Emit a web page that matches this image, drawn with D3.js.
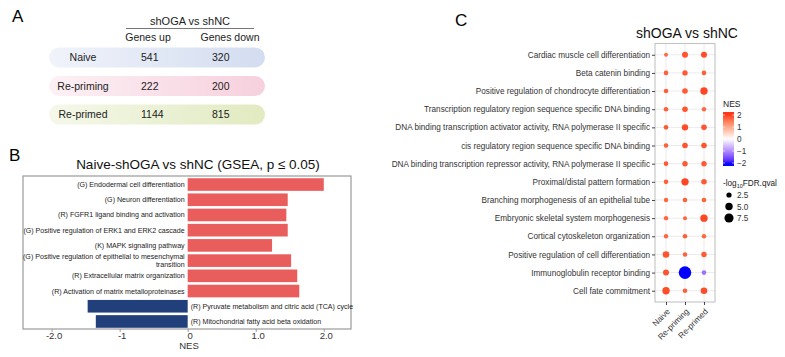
<!DOCTYPE html>
<html><head><meta charset="utf-8">
<script src="https://cdn.jsdelivr.net/npm/d3@7"></script>
<style>body{margin:0;background:#fff}svg{display:block;font-family:"Liberation Sans",Arial,sans-serif}</style>
</head><body>
<svg id="chart" width="785" height="357"></svg>
<script>
// ---------- Panel A data ----------
const tableRows = ["Naive", "Re-priming", "Re-primed"];
const genesUp = [541, 222, 1144];
const genesDown = [320, 200, 815];

// ---------- Panel B data ----------
const gseaTerms = [
  "(G) Endodermal cell differentiation",
  "(G) Neuron differentiation",
  "(R) FGFR1 ligand binding and activation",
  "(G) Positive regulation of ERK1 and ERK2 cascade",
  "(K) MAPK signaling pathway",
  "(G) Positive regulation of epithelial to mesenchymal|transition",
  "(R) Extracellular matrix organization",
  "(R) Activation of matrix metalloproteinases",
  "(R) Pyruvate metabolism and citric acid (TCA) cycle",
  "(R) Mitochondrial fatty acid beta oxidation"
];
const gseaNES = [2.0, 1.47, 1.45, 1.47, 1.24, 1.52, 1.61, 1.64, -1.47, -1.35];
const bTicks = [-2, -1, 0, 1, 2];
const bTickLabels = ["-2.0", "-1", "0", "1.0", "2.0"];

// ---------- Panel C data ----------
const cTerms = [
  "Cardiac muscle cell differentiation",
  "Beta catenin binding",
  "Positive regulation of chondrocyte differentiation",
  "Transcription regulatory region sequence specific DNA binding",
  "DNA binding transcription activator activity, RNA polymerase II specific",
  "cis regulatory region sequence specific DNA binding",
  "DNA binding transcription repressor activity, RNA polymerase II specific",
  "Proximal/distal pattern formation",
  "Branching morphogenesis of an epithelial tube",
  "Embryonic skeletal system morphogenesis",
  "Cortical cytoskeleton organization",
  "Positive regulation of cell differentiation",
  "Immunoglobulin receptor binding",
  "Cell fate commitment"
];
const cGroups = ["Naive", "Re-priming", "Re-primed"];
const nesNaive     = [1.6, 1.7, 1.7, 1.7, 1.75, 1.7, 1.75, 1.7, 1.65, 1.65, 1.65, 1.8, 1.8, 1.85];
const nesRepriming = [1.8, 1.75, 1.75, 1.8, 1.85, 1.8, 1.75, 1.9, 1.7, 1.65, 1.7, 1.7, -2.0, 1.7];
const nesReprimed  = [1.85, 1.7, 1.9, 1.65, 1.8, 1.8, 1.75, 1.75, 1.7, 1.9, 1.65, 1.75, -1.2, 1.85];
const qNaive     = [1.23, 1.63, 1.63, 1.63, 1.63, 1.63, 1.63, 1.63, 1.5, 1.5, 1.5, 3.36, 2.78, 4.2];
const qRepriming = [2.78, 2.25, 2.4, 2.4, 3.16, 2.4, 2.25, 4.2, 1.63, 1.23, 1.63, 1.5, 12.2, 1.63];
const qReprimed  = [2.78, 1.63, 4.2, 1.5, 2.4, 2.4, 2.25, 2.4, 1.63, 4.2, 1.5, 2.25, 1.63, 3.36];
const nesLegendTicks = [2, 1, 0, -1, -2];
const sizeLegendValues = [2.5, 5.0, 7.5];

const svg = d3.select("#chart");
const FONT = "'Liberation Sans',Arial,sans-serif";

// ================= Panel A =================
const gA = svg.append("g");
gA.append("text").attr("x", 12).attr("y", 22).attr("font-size", 17).text("A");
gA.append("text").attr("x", 190).attr("y", 25).attr("text-anchor", "middle").attr("font-size", 11).attr("fill", "#222").text("shOGA vs shNC");
gA.append("line").attr("x1", 126).attr("x2", 254).attr("y1", 28.5).attr("y2", 28.5).attr("stroke", "#777").attr("stroke-width", 1);
gA.append("text").attr("x", 148).attr("y", 41).attr("text-anchor", "middle").attr("font-size", 10.5).attr("fill", "#222").text("Genes up");
gA.append("text").attr("x", 230).attr("y", 41).attr("text-anchor", "middle").attr("font-size", 10.5).attr("fill", "#222").text("Genes down");

const bandColors = [["#f0f3fa", "#d3ddf0"], ["#fdf1f5", "#f6d0dd"], ["#f5f8ea", "#e1eac0"]];
const defs = svg.append("defs");
bandColors.forEach((c, i) => {
  const lg = defs.append("linearGradient").attr("id", "bandg" + i).attr("x1", "0%").attr("x2", "100%");
  lg.append("stop").attr("offset", "0%").attr("stop-color", c[0]);
  lg.append("stop").attr("offset", "100%").attr("stop-color", c[1]);
});
const yA = d3.scaleBand().domain(tableRows).range([46, 126]).paddingInner(0.3).paddingOuter(0.05);
tableRows.forEach((r, i) => {
  const y = yA(r), h = yA.bandwidth(), cy = y + h / 2;
  gA.append("rect").attr("x", 49).attr("y", y).attr("width", 216).attr("height", h).attr("rx", 10).attr("fill", `url(#bandg${i})`);
  gA.append("text").attr("x", 83).attr("y", cy + 3.8).attr("text-anchor", "middle").attr("font-size", 10.5).attr("fill", "#222").text(r);
  gA.append("text").attr("x", 141).attr("y", cy + 3.8).attr("font-size", 10.5).attr("fill", "#222").text(genesUp[i]);
  gA.append("text").attr("x", 212).attr("y", cy + 3.8).attr("font-size", 10.5).attr("fill", "#222").text(genesDown[i]);
});

// ================= Panel B =================
const gB = svg.append("g");
gB.append("text").attr("x", 9).attr("y", 161).attr("font-size", 17).text("B");
gB.append("text").attr("x", 198).attr("y", 169).attr("text-anchor", "middle").attr("font-size", 13.5).attr("fill", "#111").text("Naive-shOGA vs shNC (GSEA, p \u2264 0.05)");
const bL = 23, bR = 351, bT = 176, bB = 329;
const xB = d3.scaleLinear().domain([-2.42, 2.4]).range([bL, bR]);
const yB = d3.scaleBand().domain(d3.range(gseaTerms.length)).range([bT + 1, bB]).paddingInner(0.17).paddingOuter(0.08);
gB.append("rect").attr("x", bL).attr("y", bT).attr("width", bR - bL).attr("height", bB - bT).attr("fill", "none").attr("stroke", "#9a9a9a").attr("stroke-width", 1.2);
gB.selectAll("rect.bar").data(gseaNES).join("rect").attr("class", "bar")
  .attr("x", d => xB(Math.min(0, d))).attr("width", d => Math.abs(xB(d) - xB(0)))
  .attr("y", (d, i) => yB(i)).attr("height", yB.bandwidth())
  .attr("fill", d => d > 0 ? "#e95d5d" : "#203f7b");
gseaTerms.forEach((t, i) => {
  const cy = yB(i) + yB.bandwidth() / 2;
  const pos = gseaNES[i] > 0;
  const lines = t.split("|");
  const tx = gB.append("text").attr("font-size", 7.1).attr("fill", "#222")
    .attr("text-anchor", pos ? "end" : "start");
  const x = pos ? xB(0) - 3 : xB(0) + 3;
  lines.forEach((ln, k) => {
    tx.append("tspan").attr("x", x).attr("y", cy + 2.5 + (k - (lines.length - 1) / 2) * 8).text(ln);
  });
});
const axB = d3.axisBottom(xB).tickValues(bTicks).tickFormat((d, i) => bTickLabels[i]).tickSize(3).tickPadding(0);
const gAxB = gB.append("g").attr("transform", `translate(0,${bB})`).call(axB);
gAxB.select(".domain").remove();
gAxB.selectAll("line").attr("stroke", "#9a9a9a");
gAxB.selectAll("text").attr("font-size", 9.5).attr("fill", "#333").attr("font-family", FONT).attr("dx", 2);
gB.append("text").attr("x", 189).attr("y", 349).attr("text-anchor", "middle").attr("font-size", 9.5).attr("fill", "#333").text("NES");

// ================= Panel C =================
const gC = svg.append("g");
gC.append("text").attr("x", 455).attr("y", 26).attr("font-size", 17).text("C");
gC.append("text").attr("x", 687).attr("y", 38).attr("text-anchor", "middle").attr("font-size", 14).attr("fill", "#111").text("shOGA vs shNC");
const cL = 655, cR = 715, cT = 43.5, cB = 302;
const xC = d3.scalePoint().domain(cGroups).range([cL, cR]).padding(0.58);
const yC = d3.scalePoint().domain(cTerms).range([cT, cB]).padding(0.62);
const color = d3.scaleLinear().domain([-2, 0, 2]).range(["#0000ff", "#ffffff", "#ff3617"]).interpolate(d3.interpolateLab).clamp(true);
const rScale = d3.scaleSqrt().domain([0, 12.2]).range([0, 6.3]);

gC.append("rect").attr("x", cL).attr("y", cT).attr("width", cR - cL).attr("height", cB - cT).attr("fill", "#fff");
gC.selectAll("line.hg").data(cTerms).join("line").attr("class", "hg")
  .attr("x1", cL).attr("x2", cR).attr("y1", d => yC(d)).attr("y2", d => yC(d)).attr("stroke", "#ebebeb").attr("stroke-width", 1);
gC.selectAll("line.vg").data(cGroups).join("line").attr("class", "vg")
  .attr("y1", cT).attr("y2", cB).attr("x1", d => xC(d)).attr("x2", d => xC(d)).attr("stroke", "#ebebeb").attr("stroke-width", 1);

const nesByGroup = [nesNaive, nesRepriming, nesReprimed];
const qByGroup = [qNaive, qRepriming, qReprimed];
const cells = [];
cGroups.forEach((g, gi) => cTerms.forEach((t, ti) => cells.push({ g, t, nes: nesByGroup[gi][ti], q: qByGroup[gi][ti] })));
gC.selectAll("circle.dot").data(cells).join("circle").attr("class", "dot")
  .attr("cx", d => xC(d.g)).attr("cy", d => yC(d.t)).attr("r", d => rScale(d.q)).attr("fill", d => color(d.nes));
gC.append("rect").attr("x", cL).attr("y", cT).attr("width", cR - cL).attr("height", cB - cT).attr("fill", "none").attr("stroke", "#c4c4c4").attr("stroke-width", 1.1);

const axCy = d3.axisLeft(yC).tickSize(3).tickPadding(2);
const gAxCy = gC.append("g").attr("transform", `translate(${cL},0)`).call(axCy);
gAxCy.select(".domain").remove();
gAxCy.selectAll("line").attr("stroke", "#444");
gAxCy.selectAll("text").attr("font-size", 8.2).attr("fill", "#333").attr("font-family", FONT);

const axCx = d3.axisBottom(xC).tickSize(3).tickPadding(2);
const gAxCx = gC.append("g").attr("transform", `translate(0,${cB})`).call(axCx);
gAxCx.select(".domain").remove();
gAxCx.selectAll("line").attr("stroke", "#444");
gAxCx.selectAll("text").attr("font-size", 8.2).attr("fill", "#333").attr("font-family", FONT)
  .attr("text-anchor", "end").attr("dy", null).attr("y", 0)
  .attr("transform", "translate(4,10) rotate(-45)");

// Legend: NES colorbar
const lgX = 723;
gC.append("text").attr("x", lgX).attr("y", 107).attr("font-size", 8.5).attr("fill", "#222").text("NES");
const cbY = d3.scaleLinear().domain([2, -2]).range([115, 163]);
const cbg = defs.append("linearGradient").attr("id", "cbar").attr("x1", 0).attr("x2", 0).attr("y1", "0%").attr("y2", "100%");
d3.range(0, 1.0001, 0.05).forEach(t => {
  cbg.append("stop").attr("offset", (t * 100) + "%").attr("stop-color", color(2.2 - t * 4.4));
});
gC.append("rect").attr("x", lgX).attr("y", 112).attr("width", 11).attr("height", 54).attr("fill", "url(#cbar)");
nesLegendTicks.forEach(v => {
  gC.append("line").attr("x1", lgX).attr("x2", lgX + 2).attr("y1", cbY(v)).attr("y2", cbY(v)).attr("stroke", "#fff").attr("stroke-width", 0.6);
  gC.append("line").attr("x1", lgX + 9).attr("x2", lgX + 11).attr("y1", cbY(v)).attr("y2", cbY(v)).attr("stroke", "#fff").attr("stroke-width", 0.6);
  gC.append("text").attr("x", lgX + 14).attr("y", cbY(v) + 3).attr("font-size", 8.2).attr("fill", "#333").text(v < 0 ? "\u2212" + Math.abs(v) : v);
});

// Legend: size
const sizeTitle = gC.append("text").attr("x", lgX).attr("y", 186).attr("font-size", 8.2).attr("fill", "#222");
sizeTitle.append("tspan").text("-log");
sizeTitle.append("tspan").attr("font-size", 5.5).attr("dy", 2).text("10");
sizeTitle.append("tspan").attr("dy", -2).text("FDR.qval");
const sizeY = d3.scalePoint().domain(sizeLegendValues).range([195, 218]);
sizeLegendValues.forEach(v => {
  gC.append("circle").attr("cx", lgX + 6).attr("cy", sizeY(v)).attr("r", rScale(v) * 0.92).attr("fill", "#000");
  gC.append("text").attr("x", lgX + 14).attr("y", sizeY(v) + 3).attr("font-size", 8.2).attr("fill", "#333").text(v.toFixed(1));
});
</script>
</body></html>
